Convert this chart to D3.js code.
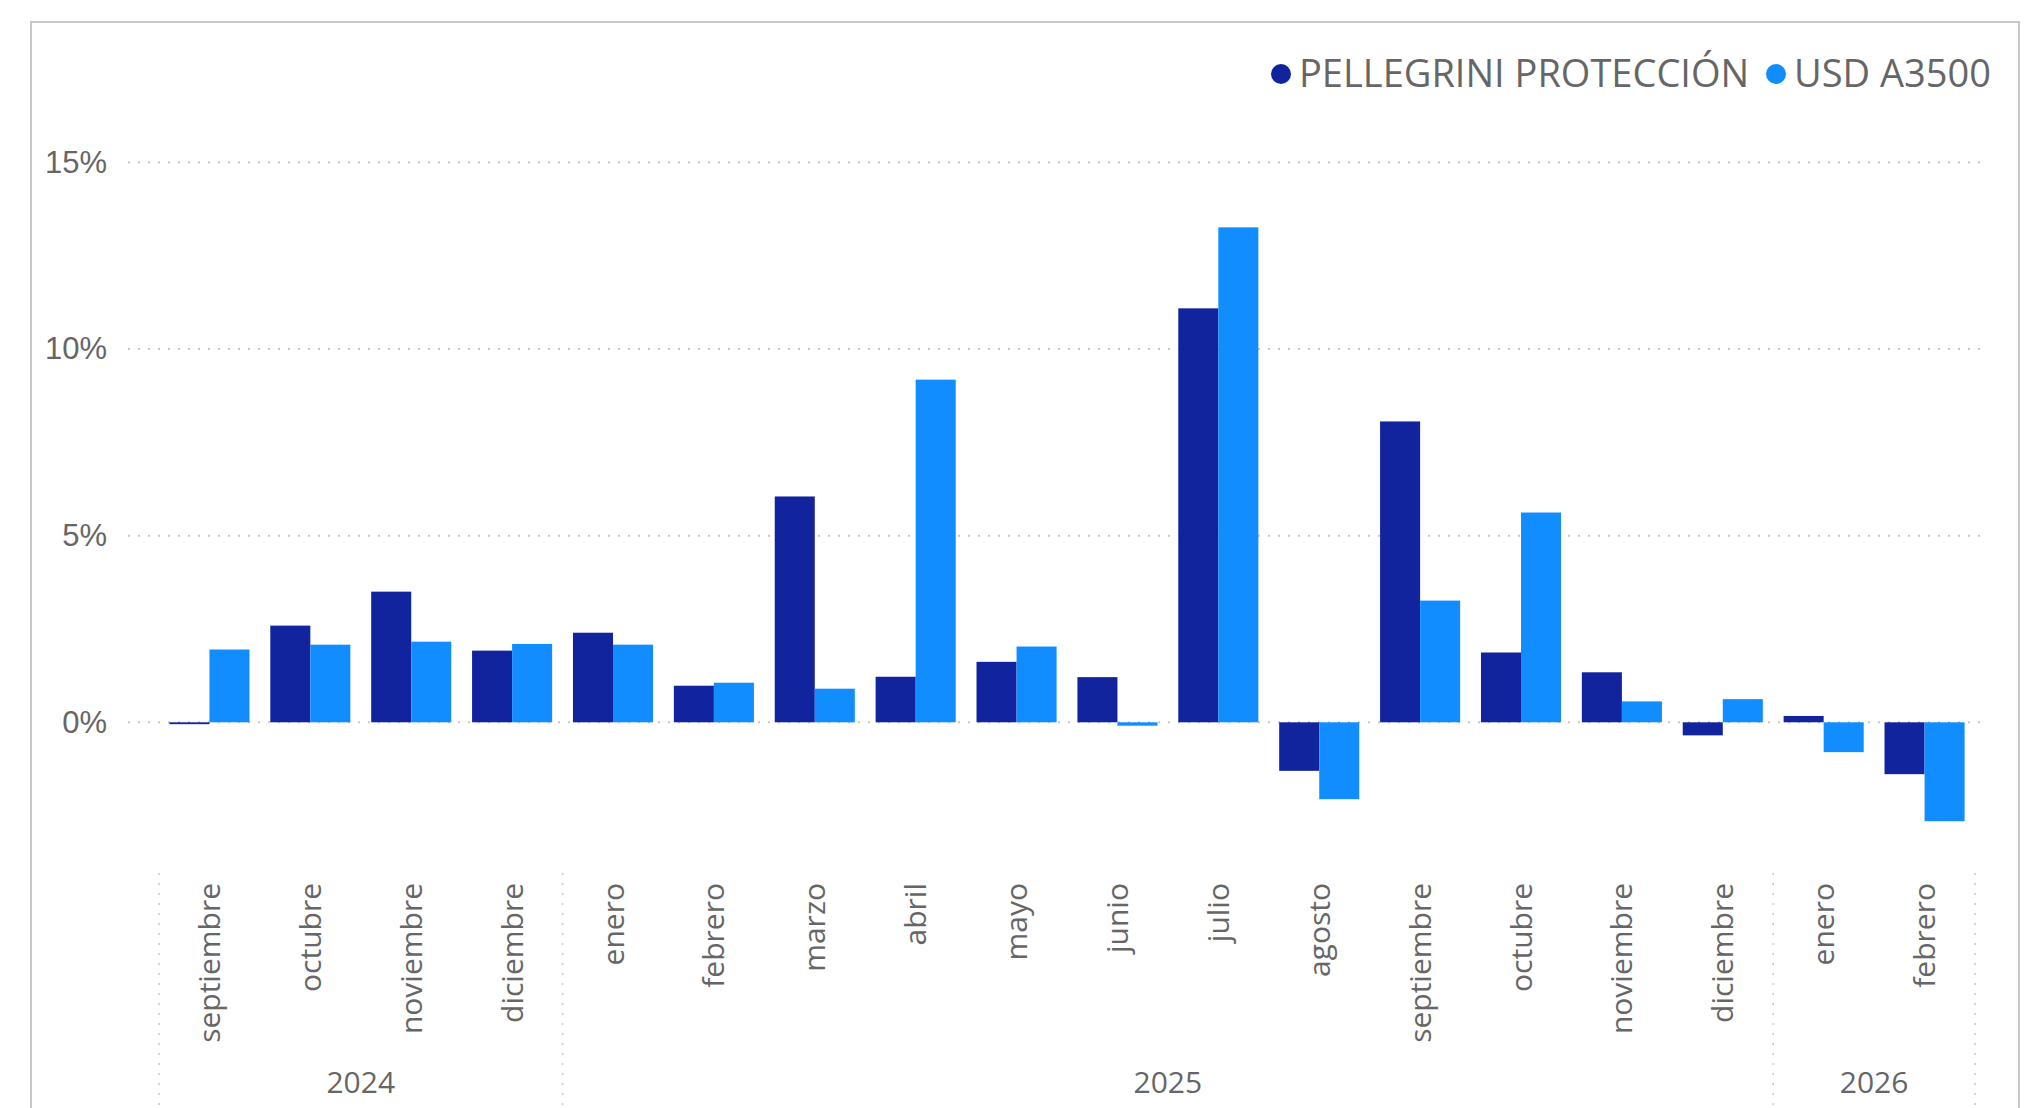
<!doctype html>
<html lang="es">
  <head>
    <meta charset="UTF-8" />
    <title>Pellegrini Protección vs USD A3500</title>
    <script src="https://d3js.org/d3.v7.min.js"></script>
    <style>
      body {
        margin: 0;
        padding: 0;
        background: #fff;
        overflow: hidden;
      }
      svg {
        display: block;
        font-family: "Segoe UI", "Open Sans", sans-serif;
      }
    </style>
  </head>
  <body>
    <script>
      // monthly variation (%)
      const months = [
        "septiembre", "octubre", "noviembre", "diciembre",
        "enero", "febrero", "marzo", "abril", "mayo", "junio", "julio",
        "agosto", "septiembre", "octubre", "noviembre", "diciembre",
        "enero", "febrero",
      ];
      const monthYears = [
        "2024", "2024", "2024", "2024",
        "2025", "2025", "2025", "2025", "2025", "2025", "2025",
        "2025", "2025", "2025", "2025", "2025",
        "2026", "2026",
      ];
      const series = ["PELLEGRINI PROTECCIÓN", "USD A3500"];
      const pellegrini = [-0.05, 2.59, 3.5, 1.92, 2.4, 0.98, 6.05, 1.22, 1.62, 1.21, 11.09, -1.3, 8.06, 1.87, 1.34, -0.35, 0.17, -1.39];
      const usdA3500 = [1.95, 2.08, 2.16, 2.1, 2.08, 1.06, 0.9, 9.18, 2.03, -0.09, 13.26, -2.06, 3.26, 5.62, 0.56, 0.62, -0.8, -2.65];
      const yTicks = [0, 5, 10, 15];

      const colors = ["#12239E", "#118DFF"];
      const textColor = "#666666";
      const width = 2027;
      const height = 1108;

      const keys = months.map((m, i) => monthYears[i] + " " + m);
      const rows = keys.map((k, i) => ({ key: k, values: [pellegrini[i], usdA3500[i]] }));

      const svg = d3.select("body").append("svg").attr("width", width).attr("height", height);

      // visual frame
      svg
        .append("rect")
        .attr("x", 31)
        .attr("y", 22)
        .attr("width", 1988)
        .attr("height", 1200)
        .attr("fill", "none")
        .attr("stroke", "#c8c8c8")
        .attr("stroke-width", 2);

      const x = d3.scaleBand().domain(keys).range([159, 1975]);
      const xs = d3.scaleBand().domain(series).range([0, x.bandwidth()]).paddingOuter(0.26);
      const y = d3.scaleLinear().domain([0, 15]).range([722.3, 162.4]);

      // gridlines
      svg
        .append("g")
        .selectAll("line")
        .data(yTicks)
        .join("line")
        .attr("x1", 128)
        .attr("x2", 1983)
        .attr("y1", (d) => y(d))
        .attr("y2", (d) => y(d))
        .attr("stroke", "#c8c8c8")
        .attr("stroke-width", 2)
        .attr("stroke-dasharray", "2,8");

      // y axis labels
      const yAxis = svg
        .append("g")
        .attr("transform", "translate(107,0)")
        .call(d3.axisLeft(y).tickValues(yTicks).tickFormat((d) => d + "%").tickSize(0).tickPadding(0));
      yAxis.select(".domain").remove();
      yAxis.selectAll("text").attr("fill", textColor).style("font-size", "31px").style("font-family", null);

      // bars
      svg
        .append("g")
        .selectAll("g")
        .data(rows)
        .join("g")
        .attr("transform", (d) => `translate(${x(d.key)},0)`)
        .selectAll("rect")
        .data((d) => d.values.map((v, i) => ({ s: series[i], v, i })))
        .join("rect")
        .attr("x", (d) => xs(d.s))
        .attr("width", xs.bandwidth())
        .attr("y", (d) => y(Math.max(0, d.v)))
        .attr("height", (d) => Math.abs(y(d.v) - y(0)))
        .attr("fill", (d) => colors[d.i]);

      // month labels
      svg
        .append("g")
        .selectAll("text")
        .data(keys)
        .join("text")
        .attr("transform", (d) => `translate(${x(d) + x.bandwidth() / 2},883) rotate(-90)`)
        .attr("text-anchor", "end")
        .attr("dy", "0.35em")
        .attr("fill", textColor)
        .style("font-size", "30px")
        .text((d, i) => months[i]);

      // year groups
      const groups = d3.groups(keys, (k) => k.slice(0, 4));
      const bounds = groups.map(([yr, ks]) => ({
        yr,
        x0: x(ks[0]),
        x1: x(ks[ks.length - 1]) + x.bandwidth(),
      }));
      const seps = [bounds[0].x0, ...bounds.map((b) => b.x1)];

      svg
        .append("g")
        .selectAll("line")
        .data(seps)
        .join("line")
        .attr("x1", (d) => d)
        .attr("x2", (d) => d)
        .attr("y1", 873)
        .attr("y2", height)
        .attr("stroke", "#c8c8c8")
        .attr("stroke-width", 1.5)
        .attr("stroke-dasharray", "2,8");

      svg
        .append("g")
        .selectAll("text")
        .data(bounds)
        .join("text")
        .attr("x", (d) => (d.x0 + d.x1) / 2)
        .attr("y", 1082)
        .attr("dy", "0.35em")
        .attr("text-anchor", "middle")
        .attr("fill", textColor)
        .style("font-size", "30px")
        .text((d) => d.yr);

      // legend
      const legendX = [1281, 1776];
      const legend = svg
        .append("g")
        .selectAll("g")
        .data(series)
        .join("g")
        .attr("transform", (d, i) => `translate(${legendX[i]},74)`);
      legend.append("circle").attr("r", 10).attr("fill", (d, i) => colors[i]);
      legend
        .append("text")
        .attr("x", 18)
        .attr("dy", "0.35em")
        .attr("fill", textColor)
        .style("font-size", "38px")
        .text((d) => d);
    </script>
  </body>
</html>
